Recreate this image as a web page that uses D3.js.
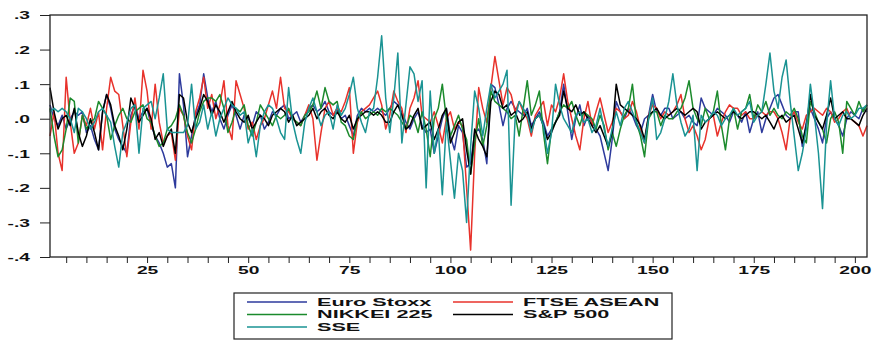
<!DOCTYPE html>
<html>
<head>
<meta charset="utf-8">
<script src="https://cdn.jsdelivr.net/npm/d3@7"></script>
<style>
  body { margin: 0; background: #fff; }
  text { font-family: "Liberation Sans", Arial, sans-serif; }
</style>
</head>
<body>
<svg id="chart" width="875" height="340"></svg>
<script>
const seriesNames = ['Euro Stoxx', 'FTSE ASEAN', 'NIKKEI 225', 'S&P 500', 'SSE'];
const seriesColors = ['#2d3a9c', '#e8322b', '#1b8a2c', '#000000', '#1a9393'];

const euroStoxx = [
  0.04, 0.00, -0.02, 0.01, -0.03, 0.00, 0.02, 0.01, 0.02, -0.04,
  -0.02, -0.06, -0.09, 0.02, 0.07, 0.03, -0.03, -0.06, -0.08, -0.10,
  0.01, 0.04, 0.00, 0.02, 0.03, -0.02, -0.05, -0.07, -0.10, -0.14,
  -0.13, -0.20, 0.13, 0.04, -0.11, -0.05, 0.01, 0.04, 0.13, 0.06,
  0.02, 0.05, 0.00, -0.03, 0.01, 0.04, 0.01, -0.03, 0.01, 0.00,
  -0.02, 0.02, 0.01, -0.03, -0.01, 0.02, 0.01, 0.03, 0.04, 0.00,
  0.01, 0.02, -0.01, 0.01, 0.03, 0.04, 0.02, 0.03, 0.05, 0.02,
  0.01, 0.03, 0.00, 0.01, -0.02, -0.05, 0.01, 0.03, 0.02, 0.03,
  0.02, 0.03, 0.02, 0.01, 0.03, 0.05, 0.04, 0.02, -0.01, -0.03,
  0.00, 0.02, -0.02, -0.04, -0.03, -0.10, -0.05, 0.00, 0.03, -0.05,
  -0.09, -0.02, -0.04, -0.14, -0.13, -0.04, -0.03, -0.06, -0.13, 0.10,
  0.09, 0.04, -0.02, 0.03, 0.05, 0.03, 0.02, 0.01, 0.03, -0.02,
  0.00, 0.02, -0.01, -0.05, -0.03, -0.01, 0.02, 0.10, 0.02, -0.06,
  0.00, 0.04, -0.02, 0.01, -0.01, -0.03, -0.05, -0.10, -0.15, -0.06,
  0.05, 0.02, 0.00, 0.03, 0.01, -0.02, -0.04, 0.00, 0.01, 0.07,
  0.02, 0.01, 0.03, 0.03, 0.00, 0.01, 0.02, 0.00, 0.01, -0.01,
  -0.02, 0.06, 0.03, 0.02, 0.01, 0.03, 0.02, 0.01, -0.01, 0.02,
  0.01, -0.01, 0.02, -0.04, 0.00, 0.02, -0.04, 0.00, 0.03, 0.06,
  0.07, 0.04, 0.01, 0.00, 0.02, 0.02, -0.08, -0.01, 0.03, 0.00,
  -0.03, -0.07, 0.00, 0.02, 0.00, -0.02, -0.05, 0.00, 0.02, 0.01,
  0.00, 0.03, 0.02
];

const ftseAsean = [
  -0.05, 0.02, -0.10, -0.15, 0.12, -0.01, -0.10, -0.07, 0.01, -0.02,
  0.03, -0.03, 0.02, -0.09, 0.03, 0.12, 0.08, 0.07, -0.02, -0.11,
  -0.01, 0.06, -0.03, 0.14, 0.08, -0.03, 0.10, -0.01, -0.07, -0.05,
  -0.04, -0.12, 0.03, 0.01, -0.05, -0.09, 0.02, 0.06, 0.12, 0.03,
  0.07, 0.00, 0.04, 0.11, -0.02, -0.06, 0.11, 0.07, 0.03, -0.03,
  -0.01, -0.06, -0.02, 0.00, 0.04, 0.08, 0.03, 0.12, 0.03, 0.02,
  0.00, -0.01, -0.02, 0.01, 0.04, 0.00, -0.12, -0.04, 0.03, 0.05,
  0.01, 0.03, 0.02, 0.05, 0.09, -0.10, -0.01, 0.02, 0.03, 0.04,
  0.06, 0.08, 0.04, -0.03, 0.01, 0.08, 0.05, 0.03, -0.04, 0.03,
  0.06, 0.11, 0.01, 0.00, -0.01, 0.02, -0.02, -0.07, 0.00, 0.02,
  -0.03, -0.01, -0.02, -0.20, -0.38, -0.10, 0.09, 0.03, -0.01, 0.09,
  0.18, 0.11, 0.04, 0.09, 0.07, 0.02, 0.05, 0.02, 0.00, -0.05,
  0.01, 0.03, 0.05, -0.02, 0.04, 0.02, 0.06, 0.13, 0.05, 0.00,
  -0.05, -0.09, 0.00, 0.05, -0.02, 0.02, 0.06, 0.01, -0.04, -0.01,
  0.03, 0.02, 0.00, 0.01, 0.05, 0.02, -0.03, -0.07, 0.01, 0.04,
  0.03, 0.00, 0.02, 0.01, 0.02, 0.04, 0.07, 0.00, -0.04, -0.02,
  -0.05, -0.09, -0.06, 0.00, 0.01, -0.05, -0.01, 0.02, 0.04, 0.03,
  0.03, 0.01, 0.02, 0.00, 0.00, 0.01, 0.02, 0.01, 0.02, 0.02,
  0.00, -0.04, -0.09, 0.00, 0.02, -0.01, -0.03, 0.01, 0.02, 0.03,
  0.02, 0.01, 0.03, 0.02, -0.01, 0.00, 0.02, 0.03, 0.00, -0.01,
  -0.02, -0.05, -0.02
];

const nikkei225 = [
  0.03, -0.05, -0.11, -0.09, -0.03, 0.06, 0.05, -0.07, 0.01, -0.03,
  -0.01, 0.00, 0.05, 0.03, 0.01, -0.06, -0.02, 0.01, 0.03, 0.00,
  -0.01, 0.02, 0.03, 0.04, 0.00, -0.01, -0.05, -0.08, -0.07, -0.03,
  -0.02, 0.00, 0.04, 0.01, -0.04, -0.07, -0.03, 0.02, 0.05, 0.06,
  0.06, 0.05, 0.07, 0.03, -0.04, -0.01, 0.03, 0.02, 0.04, -0.02,
  -0.05, -0.01, 0.04, 0.02, 0.00, -0.02, 0.01, 0.00, 0.01, 0.03,
  0.00, -0.01, -0.02, 0.01, 0.02, 0.04, 0.08, 0.03, 0.09, 0.05,
  0.04, 0.05, -0.01, -0.02, -0.05, -0.06, 0.00, 0.02, 0.00, 0.01,
  0.02, 0.01, 0.03, 0.02, 0.03, 0.02, 0.01, -0.01, -0.03, 0.01,
  0.00, -0.04, 0.02, -0.03, -0.11, 0.00, 0.03, 0.10, 0.00, -0.05,
  -0.02, 0.01, -0.03, -0.06, -0.16, -0.07, 0.00, -0.08, -0.02, 0.08,
  0.05, 0.04, 0.03, 0.02, 0.00, 0.01, -0.05, 0.03, 0.11, 0.01,
  0.04, 0.08, -0.04, -0.13, -0.03, -0.01, 0.02, 0.04, 0.03, 0.05,
  0.01, -0.02, 0.02, 0.01, 0.00, -0.03, 0.01, -0.02, -0.09, -0.04,
  -0.08, -0.03, 0.01, 0.03, 0.10, -0.01, -0.05, -0.11, 0.00, 0.02,
  0.02, -0.02, 0.01, 0.00, 0.00, 0.02, 0.03, 0.06, 0.11, 0.03,
  0.00, -0.02, 0.03, 0.00, 0.02, 0.08, -0.02, -0.09, 0.00, 0.03,
  -0.03, 0.02, 0.03, 0.07, 0.00, 0.04, 0.02, 0.05, 0.01, 0.03,
  0.01, 0.00, 0.02, 0.01, 0.03, 0.00, -0.05, -0.07, 0.05, 0.02,
  -0.01, -0.03, -0.07, 0.00, 0.02, -0.01, -0.10, 0.05, 0.03, 0.01,
  0.05, 0.02, 0.04
];

const sp500 = [
  0.09, 0.02, -0.03, 0.00, 0.01, -0.02, 0.03, -0.04, -0.08, -0.05,
  0.00, -0.04, -0.09, 0.02, 0.07, 0.04, -0.02, -0.05, -0.09, -0.03,
  0.06, 0.03, -0.01, 0.01, 0.03, 0.00, -0.06, -0.04, -0.08, -0.05,
  -0.03, -0.10, 0.07, 0.06, -0.01, -0.04, 0.00, 0.03, 0.07, 0.05,
  0.01, 0.04, 0.02, -0.01, 0.02, 0.05, 0.02, 0.00, -0.01, 0.01,
  -0.03, -0.01, 0.01, 0.00, -0.02, 0.01, 0.02, 0.03, 0.02, -0.01,
  0.01, -0.02, -0.01, 0.00, 0.01, 0.03, 0.00, 0.02, 0.03, 0.01,
  0.00, 0.02, 0.00, -0.01, 0.01, -0.03, 0.00, 0.01, 0.02, 0.02,
  0.01, 0.02, 0.01, -0.01, -0.01, 0.02, 0.04, 0.01, -0.03, -0.02,
  0.01, 0.03, -0.03, -0.02, -0.01, -0.06, -0.03, 0.01, 0.03, -0.07,
  -0.04, -0.01, 0.00, -0.09, -0.16, -0.03, -0.06, -0.08, -0.11, 0.05,
  0.08, 0.07, 0.03, 0.04, 0.01, 0.02, -0.01, 0.00, 0.02, -0.03,
  0.00, 0.01, -0.02, -0.06, -0.04, -0.01, 0.01, 0.08, 0.03, 0.02,
  0.04, 0.01, 0.02, 0.00, -0.02, -0.04, -0.02, -0.05, -0.08, -0.04,
  0.10, 0.04, 0.03, 0.02, 0.01, 0.00, -0.02, -0.06, 0.01, 0.02,
  0.03, 0.01, 0.00, 0.01, 0.02, 0.03, 0.02, 0.01, 0.02, 0.03,
  0.02, -0.03, -0.01, 0.00, 0.01, 0.02, 0.01, 0.00, 0.01, 0.02,
  0.01, 0.00, 0.01, 0.02, 0.02, 0.01, 0.00, 0.01, -0.01, -0.03,
  0.00, 0.01, -0.01, 0.00, 0.01, -0.03, -0.07, -0.02, 0.07, 0.01,
  -0.01, -0.03, 0.01, 0.06, 0.00, 0.01, 0.02, 0.00, 0.00, -0.01,
  -0.02, 0.01, 0.03
];

const sse = [
  0.02, 0.03, 0.02, 0.03, 0.02, 0.00, -0.04, 0.03, 0.02, 0.00,
  -0.03, -0.01, 0.02, 0.03, 0.01, -0.01, -0.08, -0.14, -0.04, -0.01,
  0.03, 0.04, -0.10, 0.03, 0.04, 0.05, 0.00, 0.06, 0.13, -0.03,
  -0.04, -0.04, -0.04, -0.04, -0.02, 0.10, -0.03, -0.01, 0.04, -0.03,
  0.02, -0.05, 0.00, 0.03, 0.06, 0.04, 0.03, 0.01, 0.02, -0.07,
  -0.03, -0.11, -0.02, 0.02, 0.04, 0.03, 0.00, -0.04, -0.06, 0.09,
  -0.01, -0.06, -0.10, -0.01, 0.03, 0.06, 0.02, -0.02, 0.01, 0.02,
  -0.03, 0.04, 0.01, 0.03, 0.07, 0.12, 0.03, -0.01, -0.04, 0.02,
  0.03, 0.12, 0.24, 0.06, -0.04, 0.06, 0.19, -0.07, 0.04, 0.15,
  0.13, 0.05, 0.11, -0.20, 0.08, -0.10, -0.03, -0.22, -0.01, -0.12,
  -0.23, -0.10, -0.15, -0.30, -0.08, 0.08, 0.03, -0.05, 0.03, 0.10,
  0.06, 0.08, 0.10, 0.14, -0.25, 0.00, 0.05, 0.03, 0.01, -0.04,
  0.00, 0.01, -0.02, -0.10, -0.04, 0.10, 0.04, 0.00, -0.02, -0.04,
  0.01, 0.02, -0.01, 0.00, -0.04, -0.02, 0.03, -0.03, -0.08, -0.03,
  0.02, -0.02, 0.03, 0.05, 0.02, -0.01, -0.04, -0.07, 0.00, 0.06,
  -0.06, -0.04, 0.00, 0.05, 0.13, 0.04, -0.01, -0.05, -0.03, 0.01,
  -0.15, 0.01, -0.01, 0.00, 0.02, 0.01, -0.02, 0.00, 0.01, 0.03,
  0.01, 0.02, 0.03, 0.05, -0.01, 0.01, 0.02, 0.10, 0.19, 0.08,
  0.03, 0.12, 0.17, 0.05, -0.05, -0.15, -0.10, -0.03, 0.10, 0.01,
  -0.10, -0.26, -0.02, 0.11, 0.00, -0.02, 0.01, 0.02, 0.00, 0.01,
  0.03, 0.03, 0.04
];

const yTicks = [0.3, 0.2, 0.1, 0.0, -0.1, -0.2, -0.3, -0.4];
const xMinorTicks = d3.range(5, 201, 5);
const xLabels = [25, 50, 75, 100, 125, 150, 175, 200];

const allSeries = [euroStoxx, ftseAsean, nikkei225, sp500, sse];

const svg = d3.select('#chart');
const margins = { top: 15, right: 8, bottom: 83, left: 50 };
const width = 875 - margins.left - margins.right;
const height = 340 - margins.top - margins.bottom;

// the whole picture is stretched sideways, text too
const stretch = 1.75;
const legendStretch = 1.97;

const x = d3.scaleLinear().domain([1, 203]).range([0, width]);
const y = d3.scaleLinear().domain([-0.4, 0.3]).range([height, 0]);

const g = svg.append('g')
  .attr('transform', `translate(${margins.left},${margins.top})`);

// y axis: ticks outside, labels like ".1" / "-.2"
const fmt = d => (d < 0 ? '-' : '') + '.' + Math.round(Math.abs(d) * 10);
const yAxis = g.append('g')
  .call(d3.axisLeft(y).tickValues(yTicks).tickSize(10).tickFormat(fmt));
yAxis.select('.domain').remove();
yAxis.selectAll('line').attr('stroke', '#222').attr('stroke-width', 1);
yAxis.selectAll('text')
  .attr('x', -20 / stretch)
  .attr('dy', '0.36em')
  .attr('font-size', 11)
  .attr('font-weight', 'bold')
  .attr('fill', '#111')
  .attr('transform', `scale(${stretch},1)`);

// x axis: minor ticks every 5, labels every 25
const xAxis = g.append('g')
  .attr('transform', `translate(0,${height})`)
  .call(d3.axisBottom(x).tickValues(xMinorTicks).tickSize(6)
    .tickFormat(d => xLabels.includes(d) ? d : ''));
xAxis.select('.domain').remove();
xAxis.selectAll('line').attr('stroke', '#222').attr('stroke-width', 1);
xAxis.selectAll('text')
  .attr('y', 9)
  .attr('font-size', 11)
  .attr('font-weight', 'bold')
  .attr('fill', '#111')
  .attr('transform', `scale(${stretch},1)`);

// series lines
const line = d3.line()
  .x((d, i) => x(i + 1))
  .y(d => y(d));

g.append('g')
  .attr('id', 'lines')
  .selectAll('path')
  .data(allSeries)
  .enter()
  .append('path')
  .attr('d', line)
  .attr('fill', 'none')
  .attr('stroke', (d, i) => seriesColors[i])
  .attr('stroke-width', 1.5)
  .attr('stroke-linejoin', 'round');

// plot frame
g.append('rect')
  .attr('width', width)
  .attr('height', height)
  .attr('fill', 'none')
  .attr('stroke', '#222')
  .attr('stroke-width', 1.3);

// legend
const legend = svg.append('g').attr('id', 'legend');
legend.append('rect')
  .attr('x', 234).attr('y', 293)
  .attr('width', 438).attr('height', 46)
  .attr('fill', '#fff')
  .attr('stroke', '#222')
  .attr('stroke-width', 1.2);

const cols = [247, 453];
const rows = [302, 314.5, 327];
const items = legend.selectAll('.item')
  .data(seriesNames)
  .enter()
  .append('g')
  .attr('class', 'item')
  .attr('transform', (d, i) => `translate(${cols[i % 2]},${rows[Math.floor(i / 2)]})`);

items.append('line')
  .attr('x1', 0).attr('x2', 60)
  .attr('stroke', (d, i) => seriesColors[i])
  .attr('stroke-width', 1.4);

items.append('text')
  .attr('x', 70 / legendStretch)
  .attr('dy', '0.36em')
  .attr('font-size', 11)
  .attr('font-weight', 'bold')
  .attr('fill', '#111')
  .attr('transform', `scale(${legendStretch},1)`)
  .text(d => d);
</script>
</body>
</html>
